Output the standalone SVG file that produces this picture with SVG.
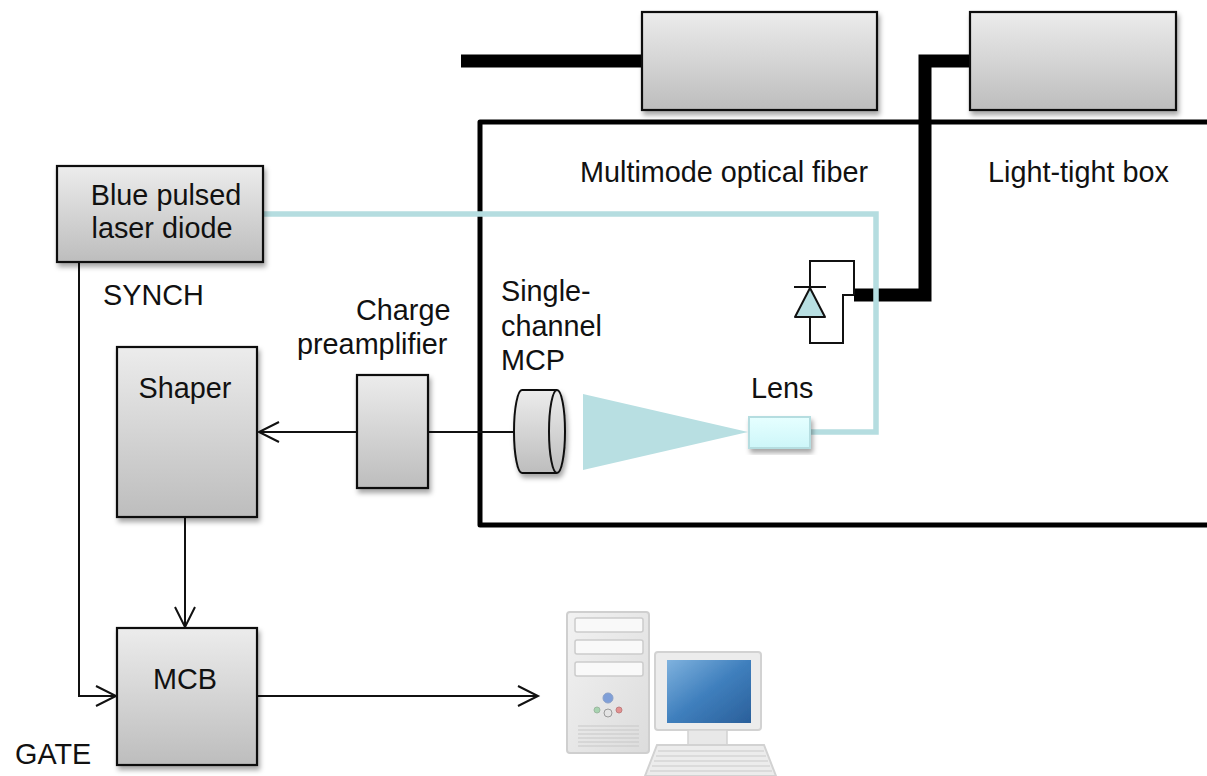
<svg xmlns="http://www.w3.org/2000/svg" width="1207" height="776" viewBox="0 0 1207 776">
  <style>
    .lbl { font-family: "Liberation Sans", Arial, Helvetica, sans-serif; font-size: 28.8px; fill: #111; }
    .mid { text-anchor: middle; }
    .box { fill: url(#boxFill); stroke: #111; stroke-width: 2.2; filter: url(#shadow); }
    .wire { fill: none; stroke: #111; stroke-width: 2; }
    .fiber { fill: none; stroke: #b5dde0; stroke-width: 5.5; }
    .cable { fill: none; stroke: #000; stroke-width: 13; }
  </style>
  <defs>
    <linearGradient id="boxFill" x1="0" y1="0" x2="0" y2="1">
      <stop offset="0" stop-color="#ececec"/>
      <stop offset="1" stop-color="#bdbdbd"/>
    </linearGradient>
    <linearGradient id="lensFill" x1="0" y1="0" x2="0" y2="1">
      <stop offset="0" stop-color="#e6ffff"/>
      <stop offset="1" stop-color="#cdf6f9"/>
    </linearGradient>
    <linearGradient id="screenFill" x1="0" y1="0" x2="1" y2="1">
      <stop offset="0" stop-color="#7fb2de"/>
      <stop offset="0.5" stop-color="#3f7fbd"/>
      <stop offset="1" stop-color="#2a5f9a"/>
    </linearGradient>
    <linearGradient id="caseFill" x1="0" y1="0" x2="1" y2="1">
      <stop offset="0" stop-color="#f2f2f2"/>
      <stop offset="1" stop-color="#dcdcdc"/>
    </linearGradient>
    <filter id="shadow" x="-10%" y="-10%" width="130%" height="130%">
      <feDropShadow dx="2" dy="4" stdDeviation="2.5" flood-color="#000" flood-opacity="0.35"/>
    </filter>
    <filter id="soft" x="-5%" y="-5%" width="110%" height="110%">
      <feGaussianBlur stdDeviation="0.6"/>
    </filter>
    <marker id="chev" markerUnits="userSpaceOnUse" markerWidth="26" markerHeight="26" viewBox="-22 -12 26 24" refX="0" refY="0" orient="auto">
      <path d="M -20 -10 L 0 0 L -20 10" fill="none" stroke="#111" stroke-width="2"/>
    </marker>
  </defs>

  <!-- light-tight enclosure -->
  <g id="light-tight-box">
    <path d="M 1212 122 H 480 V 525 H 1212" fill="none" stroke="#000" stroke-width="5" stroke-linejoin="round"/>
    <text class="lbl" x="988" y="182">Light-tight box</text>
  </g>

  <!-- connectors -->
  <g id="connectors">
    <!-- thick cables -->
    <path class="cable" d="M 461 61 H 642"/>
    <path class="cable" d="M 854 295 H 925 V 61 H 970"/>
    <!-- optical fiber -->
    <path class="fiber" d="M 264 214 H 876 V 432 H 811"/>
    <!-- signal wires -->
    <path class="wire" d="M 79 262 V 696 H 116" marker-end="url(#chev)"/>
    <path class="wire" d="M 357 432 H 259" marker-end="url(#chev)"/>
    <path class="wire" d="M 428 432 H 515"/>
    <path class="wire" d="M 185 517 V 627" marker-end="url(#chev)"/>
    <path class="wire" d="M 257 696 H 538" marker-end="url(#chev)"/>
  </g>

  <g id="top-unit-1">
    <rect class="box" x="642" y="12" width="235" height="98"/>
  </g>
  <g id="top-unit-2">
    <rect class="box" x="970" y="12" width="206" height="98"/>
  </g>

  <g id="fiber-label">
    <text class="lbl" x="580" y="182">Multimode optical fiber</text>
  </g>

  <g id="laser">
    <rect class="box" x="57" y="166" width="206" height="96"/>
    <text class="lbl mid" x="166" y="205">Blue pulsed</text>
    <text class="lbl mid" x="162" y="238">laser diode</text>
  </g>
  <g id="synch-label">
    <text class="lbl" x="103" y="305">SYNCH</text>
  </g>

  <g id="photodiode">
    <path class="wire" d="M 810 287 V 261 H 854 V 295"/>
    <path class="wire" d="M 854 295 H 843 V 343 H 810 V 317"/>
    <polygon points="810,288 825,317 795,317" fill="#b8dfe2" stroke="#111" stroke-width="2" stroke-linejoin="round"/>
    <line x1="794" y1="287" x2="826" y2="287" stroke="#111" stroke-width="2"/>
  </g>

  <g id="preamp">
    <rect class="box" x="357" y="375" width="71" height="113"/>
    <text class="lbl" x="356" y="320">Charge</text>
    <text class="lbl" x="297" y="354">preamplifier</text>
  </g>

  <g id="mcp">
    <path d="M 522 390 H 557 A 8 41.5 0 0 1 557 473 H 522 A 8 41.5 0 0 1 522 390 Z" fill="url(#boxFill)" stroke="#111" stroke-width="2" filter="url(#shadow)"/>
    <path d="M 557 390 A 8 41.5 0 0 0 557 473" fill="none" stroke="#111" stroke-width="2"/>
    <text class="lbl" x="501" y="301">Single-</text>
    <text class="lbl" x="501" y="336">channel</text>
    <text class="lbl" x="501" y="370">MCP</text>
  </g>

  <g id="beam">
    <polygon points="583,394 748,432 583,470" fill="#b8dfe2"/>
  </g>

  <g id="lens">
    <rect x="749" y="417" width="61" height="31" fill="url(#lensFill)" stroke="#b5dde0" stroke-width="2" filter="url(#shadow)"/>
    <text class="lbl" x="751" y="398">Lens</text>
  </g>

  <g id="shaper">
    <rect class="box" x="117" y="347" width="140" height="170"/>
    <text class="lbl mid" x="185" y="398">Shaper</text>
  </g>

  <g id="mcb">
    <rect class="box" x="117" y="628" width="140" height="137"/>
    <text class="lbl mid" x="185" y="689">MCB</text>
  </g>
  <g id="gate-label">
    <text class="lbl" x="15" y="764">GATE</text>
  </g>

  <!-- desktop computer -->
  <g id="computer" filter="url(#soft)">
    <rect x="567" y="612" width="82" height="141" rx="3" fill="url(#caseFill)" stroke="#cfcfcf" stroke-width="2"/>
    <rect x="575" y="618" width="68" height="14" rx="2" fill="#f9f9f9" stroke="#cccccc" stroke-width="1.5"/>
    <rect x="575" y="640" width="68" height="14" rx="2" fill="#f9f9f9" stroke="#cccccc" stroke-width="1.5"/>
    <rect x="575" y="662" width="68" height="14" rx="2" fill="#f9f9f9" stroke="#cccccc" stroke-width="1.5"/>
    <circle cx="608" cy="698" r="5" fill="#7f9fd8" stroke="#8aa0c8"/>
    <circle cx="597" cy="710" r="3" fill="#a7d3b0" stroke="#9cb8a0"/>
    <circle cx="608" cy="713" r="4" fill="#e4e4e4" stroke="#9a9a9a"/>
    <circle cx="619" cy="710" r="3" fill="#e39090" stroke="#c08080"/>
    <g stroke="#c8c8c8" stroke-width="1.2">
      <line x1="578" y1="726" x2="639" y2="726"/>
      <line x1="578" y1="730" x2="639" y2="730"/>
      <line x1="578" y1="734" x2="639" y2="734"/>
      <line x1="578" y1="738" x2="639" y2="738"/>
      <line x1="578" y1="742" x2="639" y2="742"/>
      <line x1="578" y1="746" x2="639" y2="746"/>
    </g>
    <rect x="655" y="652" width="106" height="78" rx="3" fill="#ececec" stroke="#d2d2d2" stroke-width="2"/>
    <rect x="667" y="660" width="84" height="63" fill="url(#screenFill)"/>
    <rect x="688" y="730" width="39" height="16" fill="#e8e8e8" stroke="#d2d2d2" stroke-width="1.5"/>
    <polygon points="657,745 764,745 776,776 645,776" fill="#ececec" stroke="#d2d2d2" stroke-width="2"/>
    <g stroke="#c9c9c9" stroke-width="1.2">
      <line x1="658" y1="751" x2="764" y2="751"/>
      <line x1="656" y1="756" x2="766" y2="756"/>
      <line x1="654" y1="761" x2="768" y2="761"/>
      <line x1="652" y1="766" x2="770" y2="766"/>
      <line x1="650" y1="771" x2="772" y2="771"/>
    </g>
  </g>
</svg>
